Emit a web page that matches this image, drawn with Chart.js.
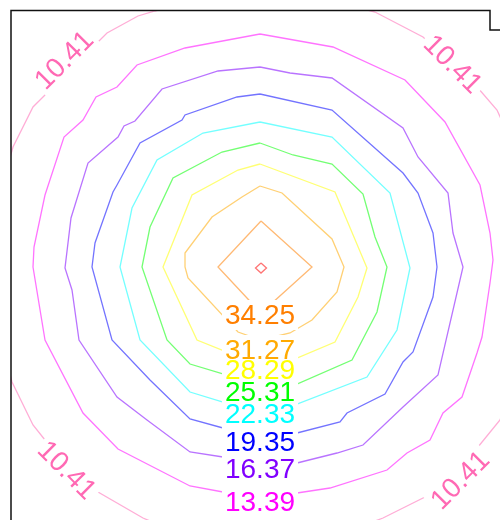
<!DOCTYPE html>
<html lang="en">
<head>
    <meta charset="utf-8">
    <title>Contour</title>
    <style>
        html, body { margin: 0; padding: 0; background: #fff; overflow: hidden; }
        #contour { display: block; }
    </style>
</head>
<body>
<canvas id="contour" width="500" height="520"></canvas>
<script src="https://cdn.jsdelivr.net/npm/chart.js"></script>
<script>
// contour levels, innermost last
var levels = [10.41, 13.39, 16.37, 19.35, 22.33, 25.31, 28.29, 31.27, 34.25, 37.23];
var levelColors = ['#ff69b4', '#ff00ff', '#8000ff', '#0000ff', '#00ffff',
                   '#00ff00', '#ffff00', '#ffaa00', '#ff7f00', '#ff0000'];

// contour paths, [x, y] in plot units
var path10_41 = [[0,27.2],[6.0,26.8],[11.5,25.4],[16.3,22.9],[21.8,17.8],[23.7,15.6],[25.5,11.6],[26.8,0],
    [25.5,-11.4],[24.0,-15.4],[21.8,-18.1],[16.5,-23.1],[12.3,-25.2],[7.0,-27.2],[0,-27.9],[-7.0,-27.2],
    [-11.7,-25.2],[-16.2,-22.6],[-21.5,-17.4],[-22.7,-15.9],[-24.8,-11.6],[-26.2,-6.4],[-26.8,0],[-26.2,6.6],
    [-24.7,11.9],[-22.7,15.9],[-21.7,16.9],[-16.3,22.3],[-15.3,23.3],[-12.2,25.0],[-10.5,25.5],[-6.0,26.7]];
var path13_39 = [[0,23.2],[7.3,21.9],[14.5,18.6],[18.5,14.4],[22.0,8.1],[23.0,3.3],[23.3,0.6],[23.0,-1.7],
    [22.2,-7.1],[21.7,-8.7],[20.2,-13.1],[18.3,-14.7],[17.0,-17.4],[14.7,-18.7],[12.7,-20.4],[7.0,-22.2],
    [3.7,-22.7],[0,-23.0],[-3.7,-22.6],[-7.0,-22.0],[-14.2,-18.3],[-17.7,-14.7],[-21.5,-7.4],[-22.7,-0.1],
    [-22.6,1.9],[-21.5,7.1],[-19.6,12.9],[-17.7,14.6],[-16.4,16.9],[-14.3,17.9],[-12.3,20.1],[-7.5,21.8]];
var path16_37 = [[0,19.9],[3.0,19.3],[7.2,18.8],[14.3,13.8],[15.8,10.9],[18.8,7.3],[19.3,3.3],[20.3,-0.1],
    [17.8,-10.9],[14.3,-14.1],[10.3,-17.9],[7.7,-18.7],[3.7,-19.7],[0,-19.9],[-3.7,-19.1],[-7.0,-18.6],
    [-11.3,-15.4],[-14.3,-13.1],[-18.1,-7.4],[-18.8,-2.4],[-19.5,-0.2],[-18.9,4.8],[-17.2,10.3],[-14.2,12.9],
    [-13.6,14.0],[-12.5,14.5],[-9.8,17.7],[-4.2,19.5]];
var path19_35 = [[0,17.2],[7.2,15.6],[14.3,9.3],[15.8,7.3],[17.3,3.3],[17.7,-0.1],[17.3,-3.1],[15.3,-8.6],
    [14.3,-9.6],[12.5,-12.8],[8.7,-14.7],[8.0,-15.6],[3.7,-16.7],[0,-16.9],[-3.7,-16.2],[-7.0,-15.3],
    [-11.0,-11.4],[-14.8,-7.4],[-16.8,-0.1],[-16.5,2.3],[-14.7,7.4],[-14.3,8.1],[-12.0,12.3],[-7.8,14.6],
    [-7.5,15.1],[-2.3,16.9]];
var path22_33 = [[0,14.4],[7.2,12.9],[13.0,7.3],[15.0,-0.2],[13.7,-6.4],[10.7,-11.1],[3.7,-13.8],[0,-14.0],
    [-3.7,-13.6],[-7.0,-12.6],[-12.0,-7.4],[-14.0,-0.1],[-12.8,5.8],[-10.3,10.6],[-5.7,13.3]];
var path25_31 = [[0,12.3],[3.3,11.1],[7.2,10.2],[10.3,7.2],[11.5,2.9],[12.7,-0.1],[11.7,-4.6],[9.2,-9.4],
    [3.7,-11.8],[0,-11.6],[-3.3,-10.9],[-7.0,-9.8],[-9.3,-7.4],[-11.8,-0.1],[-11.0,3.9],[-8.7,8.8],[-3.8,11.4]];
var path28_29 = [[0,10.2],[7.5,7.4],[10.7,-0.2],[9.8,-3.1],[7.5,-7.6],[3.7,-9.2],[0,-9.0],[-3.3,-8.6],
    [-6.3,-7.4],[-9.7,-0.1],[-6.8,7.1],[-2.2,9.6]];
var path31_27 = [[0,8.0],[2.2,7.3],[7.2,2.7],[8.4,-0.1],[7.7,-2.6],[5.2,-5.4],[3.0,-6.7],[0.1,-7.4],
    [-2.2,-6.6],[-7.2,-1.2],[-7.5,-0.1],[-7.5,1.3],[-4.8,4.9],[-1.8,6.9]];
var path34_25 = [[0.1,4.5],[5.2,-0.1],[0.1,-4.7],[-4.2,-0.1]];
var path37_23 = [[0.1,0.3],[0.65,-0.2],[0.1,-0.7],[-0.45,-0.2]];

var paths = [path10_41, path13_39, path16_37, path19_35, path22_33,
             path25_31, path28_29, path31_27, path34_25, path37_23];

// inline labels: level index, position, rotation (deg)
var labelLevel = [8, 7, 6, 5, 4, 3, 2, 1, 0, 0, 0, 0];
var labelX = [0, 0, 0, 0, 0, 0, 0, 0, -19.6, 19.3, -19.3, 20.0];
var labelY = [-4.9, -8.4, -10.4, -12.6, -14.8, -17.6, -20.3, -23.6, 20.6, 20.2, -20.4, -21.4];
var labelAngle = [0, 0, 0, 0, 0, 0, 0, 0, -45, 45, 45, -45];

function withAlpha(hex, a) {
    var n = parseInt(hex.slice(1), 16);
    return 'rgba(' + (n >> 16) + ',' + ((n >> 8) & 255) + ',' + (n & 255) + ',' + a + ')';
}

var datasets = paths.map(function (p, i) {
    var pts = p.map(function (v) { return { x: v[0], y: v[1] }; });
    pts.push({ x: p[0][0], y: p[0][1] });  // close the loop
    return {
        label: levels[i].toFixed(2),
        data: pts,
        showLine: true,
        borderColor: withAlpha(levelColors[i], 0.55),
        borderWidth: 1.3,
        pointRadius: 0,
        tension: 0,
        fill: false
    };
});

var labelFont = '28px "Liberation Sans", Arial, sans-serif';

var contourLabels = {
    id: 'contourLabels',
    afterDatasetsDraw: function (chart) {
        var ctx = chart.ctx;
        var xs = chart.scales.x, ys = chart.scales.y;
        ctx.save();
        ctx.font = labelFont;
        ctx.textAlign = 'center';
        ctx.textBaseline = 'middle';
        // knock out the line under each label first
        for (var pass = 0; pass < 2; pass++) {
            for (var i = 0; i < labelLevel.length; i++) {
                var txt = levels[labelLevel[i]].toFixed(2);
                var w = ctx.measureText(txt).width;
                ctx.save();
                ctx.translate(xs.getPixelForValue(labelX[i]), ys.getPixelForValue(labelY[i]));
                ctx.rotate(labelAngle[i] * Math.PI / 180);
                if (pass === 0) {
                    ctx.fillStyle = '#fff';
                    ctx.fillRect(-w / 2 - 3, -15, w + 6, 30);
                } else {
                    ctx.fillStyle = levelColors[labelLevel[i]];
                    ctx.fillText(txt, 0, 1);
                }
                ctx.restore();
            }
        }
        ctx.restore();
    },
    afterDraw: function (chart) {
        var ctx = chart.ctx, a = chart.chartArea;
        ctx.save();
        ctx.strokeStyle = '#111';
        ctx.lineWidth = 1.5;
        ctx.beginPath();
        ctx.moveTo(a.left, a.bottom);
        ctx.lineTo(a.left, a.top + 0.5);
        ctx.lineTo(a.right - 10, a.top + 0.5);
        ctx.lineTo(a.right - 10, a.top + 20);
        ctx.lineTo(a.right, a.top + 20);
        ctx.stroke();
        ctx.restore();
    }
};

new Chart('contour', {
    type: 'scatter',
    data: { datasets: datasets },
    options: {
        responsive: false,
        animation: false,
        devicePixelRatio: 1,
        layout: { padding: { left: 11, top: 10, right: 0, bottom: 0 } },
        plugins: { legend: { display: false }, tooltip: { enabled: false } },
        scales: {
            x: { type: 'linear', min: -24.9, max: 24.0, display: false },
            y: { type: 'linear', min: -25.4, max: 25.6, display: false }
        }
    },
    plugins: [contourLabels]
});
</script>
</body>
</html>
